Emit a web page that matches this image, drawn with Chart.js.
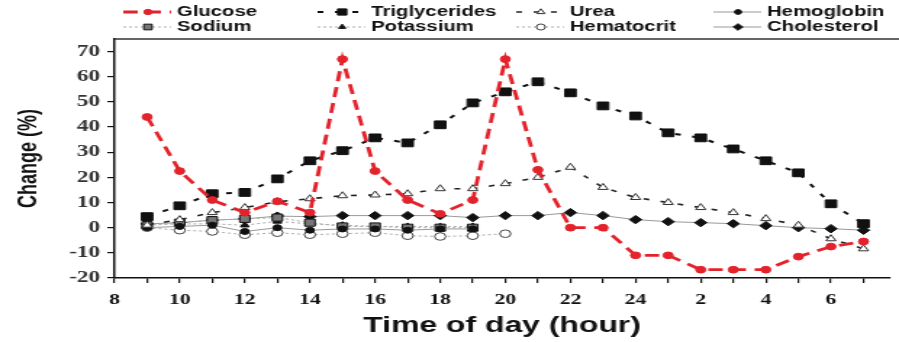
<!DOCTYPE html>
<html>
<head>
<meta charset="utf-8">
<script src="https://cdn.jsdelivr.net/npm/chart.js@4/dist/chart.umd.min.js"></script>
<style>
  body { margin: 0; background: #fff; }
  canvas { display: block; }
</style>
</head>
<body>
<!-- drawn narrow, then stretched sideways like the source figure -->
<canvas id="chart" width="620" height="342" style="width:899px;height:342px"></canvas>
<script>
const hours = [9, 10, 11, 12, 13, 14, 15, 16, 17, 18, 19, 20, 21, 22, 23, 24, 25, 26, 27, 28, 29, 30, 31];
const glucose = [44, 22.5, 11, 6, 10.5, 6, 67, 22.5, 11, 5.5, 11, 67, 23, 0, 0, -11, -11, -16.7, -16.7, -16.7, -11.5, -7.5, -5.5];
const triglycerides = [4.4, 8.7, 13.5, 14, 19.4, 26.6, 30.6, 35.7, 33.7, 40.9, 49.6, 54, 58, 53.6, 48.4, 44.4, 37.7, 35.7, 31.3, 26.6, 21.8, 9.5, 1.6];
const urea = [1, 3.2, 6, 8, 10.3, 11.5, 12.7, 13, 13.5, 15.5, 15.5, 17.5, 20, 24, 16, 12, 10, 8, 6, 3.6, 1, -4.4, -8.4];
const cholesterol = [1.5, 2, 3, 3.5, 4.6, 4.4, 4.8, 4.8, 4.8, 4.8, 4, 4.8, 4.8, 6, 4.8, 3.2, 2.4, 2, 1.6, 0.8, 0, -0.4, -1];
// these four were only measured during the day (9 to 19/20 h)
const hemoglobin = [0, 0.5, 1, -1.5, 0, -1, -0.5, -0.5, -1, -0.5, -0.5];
const sodium = [1, 2, 3, 3.5, 4, 2, 0.5, 0.5, 0, 0, 0];
const potassium = [1, 1.5, 1.5, 1, 2.5, 1.5, 1, 0.5, 0.5, 0.5, 0.5];
const hematocrit = [0, -1, -1.5, -2.8, -2, -2.8, -2.4, -2, -3.2, -3.5, -3.2, -2.4];
const yTicks = [-20, -10, 0, 10, 20, 30, 40, 50, 60, 70];

const pts = (vals) => vals.map((v, i) => ({ x: hours[i], y: v }));
const hourLabel = (v) => (v % 2 === 0 && v <= 30) ? String(v > 24 ? v - 24 : v) : '';

const datasets = [
  { label: 'Glucose', data: pts(glucose), borderColor: '#e3232b', borderWidth: 2.8, borderDash: [10, 6],
    pointStyle: 'circle', pointRadius: 3.4, pointBackgroundColor: '#e3232b', pointBorderColor: '#e3232b' },
  { label: 'Triglycerides', data: pts(triglycerides), borderColor: '#111', borderWidth: 2, borderDash: [4, 8],
    pointStyle: 'rect', pointRadius: 5.5, pointBackgroundColor: '#111', pointBorderColor: '#111' },
  { label: 'Urea', data: pts(urea), borderColor: '#222', borderWidth: 1.6, borderDash: [4, 8],
    pointStyle: 'triangle', pointRadius: 4, pointBackgroundColor: '#fff', pointBorderColor: '#333' },
  { label: 'Hemoglobin', data: pts(hemoglobin), borderColor: '#999', borderWidth: 1, borderDash: [],
    pointStyle: 'circle', pointRadius: 3, pointBackgroundColor: '#111', pointBorderColor: '#111' },
  { label: 'Sodium', data: pts(sodium), borderColor: '#aaa', borderWidth: 1, borderDash: [2, 2],
    pointStyle: 'rect', pointRadius: 5, pointBackgroundColor: '#777', pointBorderColor: '#111' },
  { label: 'Potassium', data: pts(potassium), borderColor: '#aaa', borderWidth: 1, borderDash: [2, 2],
    pointStyle: 'triangle', pointRadius: 3.5, pointBackgroundColor: '#111', pointBorderColor: '#111' },
  { label: 'Hematocrit', data: pts(hematocrit), borderColor: '#aaa', borderWidth: 1, borderDash: [2, 2],
    pointStyle: 'circle', pointRadius: 3.8, pointBackgroundColor: '#fff', pointBorderColor: '#444' },
  { label: 'Cholesterol', data: pts(cholesterol), borderColor: '#999', borderWidth: 1, borderDash: [],
    pointStyle: 'rectRot', pointRadius: 4.2, pointBackgroundColor: '#111', pointBorderColor: '#111' }
];
datasets.forEach(d => { d.fill = false; d.tension = 0; d.pointBorderWidth = 1; });

// legend laid out as a 4 x 2 grid above the plot, like the figure
const legendCols = [85, 219, 356, 492];
const legendRows = [12, 27];
const gridLegend = {
  id: 'gridLegend',
  afterDraw(chart) {
    const ctx = chart.ctx;
    const area = chart.chartArea;
    ctx.save();
    ctx.setLineDash([]);
    ctx.strokeStyle = '#333';
    ctx.lineWidth = 1.5;
    ctx.beginPath();
    ctx.moveTo(area.left, area.top);
    ctx.lineTo(chart.width, area.top);
    ctx.stroke();

    ctx.font = 'bold 14px "Liberation Sans", Arial, sans-serif';
    ctx.textBaseline = 'middle';
    chart.data.datasets.forEach((ds, i) => {
      const x0 = legendCols[i % 4];
      const y = legendRows[Math.floor(i / 4)];
      ctx.strokeStyle = ds.borderColor;
      ctx.lineWidth = ds.borderWidth;
      ctx.setLineDash(ds.borderDash);
      ctx.beginPath();
      ctx.moveTo(x0, y);
      ctx.lineTo(x0 + 33, y);
      ctx.stroke();
      ctx.setLineDash([]);
      ctx.fillStyle = ds.pointBackgroundColor;
      ctx.strokeStyle = ds.pointBorderColor;
      ctx.lineWidth = 1;
      Chart.helpers.drawPoint(ctx, { pointStyle: ds.pointStyle, radius: ds.pointRadius * 0.8, borderWidth: 1, rotation: 0 }, x0 + 17, y);
      ctx.fillStyle = '#111';
      ctx.fillText(ds.label, x0 + 37, y);
    });
    ctx.restore();
  }
};

new Chart(document.getElementById('chart'), {
  type: 'line',
  data: { datasets: datasets },
  plugins: [gridLegend],
  options: {
    responsive: false,
    devicePixelRatio: 1,
    animation: false,
    layout: { padding: { top: 39, right: 4, left: 0, bottom: 0 } },
    plugins: { legend: { display: false }, title: { display: false }, tooltip: { enabled: false } },
    scales: {
      x: {
        type: 'linear',
        min: 8,
        max: 31.8,
        afterFit: s => { s.height = 64; },
        border: { display: true, color: '#111', width: 1.5 },
        grid: { drawOnChartArea: false, drawTicks: true, tickLength: 5, color: '#111', lineWidth: 1.2 },
        ticks: {
          stepSize: 1, includeBounds: false, autoSkip: false, maxRotation: 0, padding: 8,
          color: '#111', font: { family: '"Liberation Serif", "Times New Roman", serif', size: 15, weight: 'bold' },
          callback: hourLabel
        },
        title: {
          display: true, text: 'Time of day (hour)', color: '#111', padding: { top: 0, bottom: 3 },
          font: { family: '"Liberation Sans", Arial, sans-serif', size: 22, weight: 'bold' }
        }
      },
      y: {
        min: -20,
        max: 75,
        afterFit: s => { s.width = 79; },
        afterBuildTicks: s => { s.ticks = yTicks.map(v => ({ value: v })); },
        border: { display: true, color: '#111', width: 1.5 },
        grid: { drawOnChartArea: false, drawTicks: true, tickLength: 5, color: '#111', lineWidth: 1.2 },
        ticks: {
          padding: 5, color: '#333',
          font: { family: '"Liberation Serif", "Times New Roman", serif', size: 16, weight: 'bold' }
        },
        title: {
          display: true, text: 'Change (%)', color: '#111', padding: { top: 9, bottom: 0 },
          font: { family: '"Liberation Sans", Arial, sans-serif', size: 18, weight: 'bold' }
        }
      }
    }
  }
});
</script>
</body>
</html>
